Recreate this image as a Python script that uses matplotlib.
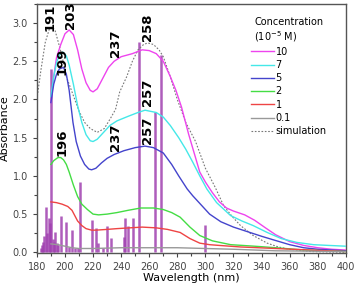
import matplotlib
matplotlib.use("Agg")
import matplotlib.pyplot as plt
from matplotlib.ticker import MultipleLocator

# measured spectra (wavelength nm, absorbance)
wl_10 = [190, 192, 194, 197, 200, 203, 206, 209, 212, 215, 218, 220, 223, 227, 231, 235, 240, 248, 255, 260, 265,
         270, 275, 279, 283, 288, 292, 296, 300, 305, 310, 315, 320, 328, 335, 342, 350, 360, 370, 380, 390, 400]
abs_10 = [1.96, 2.3, 2.55, 2.72, 2.86, 2.91, 2.85, 2.65, 2.4, 2.22, 2.12, 2.1, 2.14, 2.28, 2.42, 2.5, 2.56, 2.6, 2.65, 2.64, 2.6,
          2.5, 2.3, 2.12, 1.9, 1.55, 1.3, 1.05, 0.92, 0.78, 0.66, 0.58, 0.54, 0.49, 0.42, 0.33, 0.23, 0.14, 0.09, 0.06, 0.04, 0.03]

wl_7 = [190, 192, 194, 196, 198.5, 201, 203, 206, 209, 212, 215, 218, 220, 223, 227, 232, 237, 245, 252, 257, 265, 270, 275,
        281, 286, 291, 296, 301, 308, 318, 326, 334, 344, 354, 365, 377, 388, 400]
abs_7 = [2.04, 2.3, 2.48, 2.58, 2.62, 2.57, 2.45, 2.2, 1.92, 1.7, 1.54, 1.46, 1.45, 1.48, 1.56, 1.66, 1.72, 1.78, 1.83, 1.86, 1.83, 1.77, 1.66,
         1.5, 1.35, 1.18, 1.0, 0.83, 0.65, 0.48, 0.41, 0.35, 0.26, 0.18, 0.13, 0.1, 0.09, 0.08]

wl_5 = [190, 192, 194, 196, 199, 201, 203, 205.7, 208, 211, 214, 217, 219, 222, 226, 230, 235, 242, 250, 257, 263, 270, 276,
        281, 287, 291, 296, 303, 311, 320, 330, 340, 349, 360, 370, 380, 390, 400]
abs_5 = [1.96, 2.2, 2.33, 2.4, 2.42, 2.33, 2.12, 1.7, 1.45, 1.26, 1.15, 1.09, 1.08, 1.1, 1.17, 1.23, 1.28, 1.33, 1.37, 1.39, 1.37, 1.3, 1.15,
         1.0, 0.83, 0.74, 0.64, 0.5, 0.4, 0.33, 0.27, 0.21, 0.16, 0.1, 0.06, 0.04, 0.03, 0.02]

wl_2 = [190, 192, 195, 197, 199, 201, 203, 206, 209, 212, 216, 220, 224, 230, 237, 245, 254, 263, 270, 276, 282,
        289, 296, 305, 318, 335, 350, 370, 400]
abs_2 = [1.15, 1.2, 1.24, 1.24, 1.21, 1.15, 1.05, 0.88, 0.73, 0.63, 0.56, 0.5, 0.49, 0.5, 0.52, 0.55, 0.58, 0.58, 0.56, 0.52, 0.46,
         0.33, 0.22, 0.15, 0.1, 0.08, 0.06, 0.03, 0.01]

wl_1 = [190, 194, 198, 202, 205, 209, 212, 215, 219, 222, 230, 237, 246, 255, 265, 273, 282, 289, 296,
        303, 310, 325, 350, 375, 400]
abs_1 = [0.66, 0.65, 0.63, 0.6, 0.55, 0.41, 0.35, 0.31, 0.29, 0.29, 0.3, 0.31, 0.32, 0.33, 0.32, 0.3, 0.26, 0.18, 0.12,
         0.1, 0.09, 0.07, 0.05, 0.03, 0.01]

wl_01 = [190, 195, 200, 205, 210, 220, 240, 260, 280, 300, 320, 350, 400]
abs_01 = [0.11, 0.1, 0.08, 0.06, 0.05, 0.05, 0.06, 0.06, 0.06, 0.05, 0.04, 0.02, 0.01]

wl_sim = [180, 183, 186, 189, 191, 193, 196, 198, 201, 206, 210, 214, 218, 223, 228, 232, 236, 239, 244,
          248, 252, 256, 259, 263, 267, 270, 275, 280, 286, 293, 300, 307, 313, 319, 325, 334, 344, 352, 360, 375, 400]
abs_sim = [2.0, 2.4, 2.75, 2.93, 2.95, 2.9, 2.7, 2.56, 2.3, 2.05, 1.85, 1.7, 1.62, 1.57, 1.62, 1.74, 1.87, 2.1, 2.3,
           2.5, 2.65, 2.72, 2.74, 2.72, 2.65, 2.56, 2.3, 2.0, 1.7, 1.45, 1.1, 0.85, 0.61, 0.47, 0.35, 0.22, 0.12, 0.07, 0.04, 0.01, 0.0]

# calculated transitions (sticks)
stick_wl = [182.6, 183.5, 184.4, 185.2, 186.4, 187.3, 188.8, 189.6, 190.0, 191.2, 192.2, 193.2, 194.2, 195.2,
            197.0, 200.5, 203.0, 205.2, 207.5, 209.0, 210.7, 219.5, 221.9, 223.3, 227.0, 229.8, 232.6,
            242.1, 242.9, 244.8, 248.3, 252.9, 264.3, 268.6, 300.0]
stick_h = [0.05, 0.1, 0.14, 0.22, 0.59, 0.25, 0.45, 0.38, 2.40, 0.17, 0.14, 0.26, 0.12, 0.1,
           0.48, 0.4, 0.07, 0.29, 0.06, 0.05, 0.92, 0.42, 0.32, 0.12, 0.05, 0.34, 0.19,
           0.2, 0.45, 0.35, 0.45, 2.75, 1.84, 2.58, 0.36]

# peak labels
peak_text = ["191", "203", "199", "237", "258", "257", "196", "237", "257"]
peak_x = [189.3, 203.6, 197.9, 235.7, 258.6, 258.6, 197.9, 235.7, 258.6]
peak_y = [3.08, 3.10, 2.50, 2.73, 2.95, 2.09, 1.44, 1.50, 1.60]

fig = plt.figure(figsize=(3.58, 2.85), dpi=100)
ax = fig.add_axes([0.103, 0.112, 0.863, 0.874])

ax.vlines(stick_wl, 0, stick_h, color="#a040b0", lw=1.8, alpha=0.85, zorder=1)

ax.plot(wl_10, abs_10, color="#ee44ee", lw=1.0, label="10", zorder=3)
ax.plot(wl_7, abs_7, color="#44e8e8", lw=1.0, label="7", zorder=3)
ax.plot(wl_5, abs_5, color="#4444cc", lw=1.0, label="5", zorder=3)
ax.plot(wl_2, abs_2, color="#44dd44", lw=1.0, label="2", zorder=3)
ax.plot(wl_1, abs_1, color="#ee4444", lw=1.0, label="1", zorder=3)
ax.plot(wl_01, abs_01, color="#999999", lw=1.0, label="0.1", zorder=3)
ax.plot(wl_sim, abs_sim, color="#777777", lw=0.8, ls=(0, (1.5, 1.5)), label="simulation", zorder=2)

for t, x, y in zip(peak_text, peak_x, peak_y):
    ax.text(x, y, t, rotation=90, ha="center", va="center", fontsize=9.5, fontweight="bold", zorder=4)

ax.set_xlim(180, 400)
ax.set_ylim(-0.01, 3.25)
ax.xaxis.set_major_locator(MultipleLocator(20))
ax.xaxis.set_minor_locator(MultipleLocator(10))
ax.yaxis.set_major_locator(MultipleLocator(0.5))
ax.yaxis.set_minor_locator(MultipleLocator(0.25))
ax.yaxis.set_major_formatter(matplotlib.ticker.FormatStrFormatter("%.1f"))
ax.tick_params(which="both", direction="out", labelsize=7, colors="#444444", length=3, width=0.8)
ax.tick_params(which="minor", length=2)
for s in ax.spines.values():
    s.set_color("#555555")
    s.set_linewidth(1.0)

ax.set_xlabel("Wavelength (nm)", fontsize=8, labelpad=1)
ax.set_ylabel("Absorbance", fontsize=8, labelpad=2)

leg = ax.legend(title="Concentration\n(10$^{-5}$ M)", loc="upper left", bbox_to_anchor=(0.68, 0.965),
                frameon=False, fontsize=7, title_fontsize=7, handlelength=2.4, handletextpad=0.15,
                labelspacing=0.33, borderaxespad=0)

fig.savefig("out.png", dpi=100)
